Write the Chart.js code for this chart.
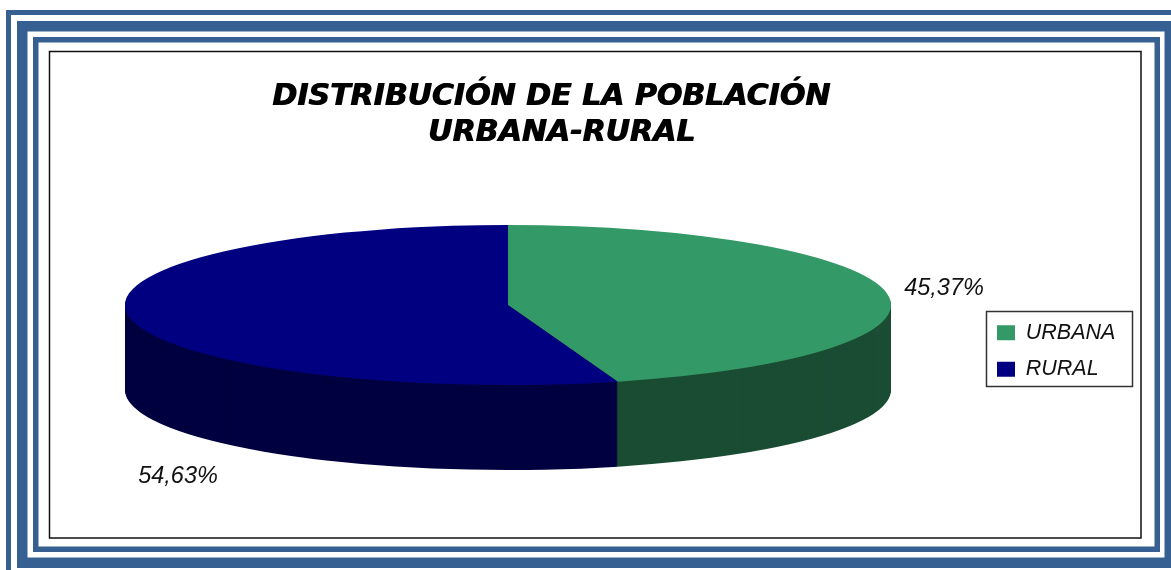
<!DOCTYPE html>
<html>
<head>
<meta charset="utf-8">
<script src="https://cdn.jsdelivr.net/npm/chart.js@4"></script>
<style>
  html, body { margin: 0; padding: 0; background: #fff; overflow: hidden; }
  canvas { display: block; }
</style>
</head>
<body>
<canvas id="pieChart" width="1171" height="570"></canvas>
<script>
const categories = ["URBANA", "RURAL"];
const values = [45.37, 54.63];
const topColors = ["#339966", "#000080"];
const sideColors = ["#1a4d33", "#000040"];
const titleLines = ["DISTRIBUCIÓN DE LA POBLACIÓN", "  URBANA-RURAL"];

const centerX = 508;
const centerY = 305;
const radiusX = 383;
const radiusY = 80;
const depth = 85;

// the frame around the chart, thick and thin bands
const frameColor = "#376092";
const frames = [
  [6, 10, 1300, 700, 5],
  [17, 21, 1158, 547, 10.5],
  [33, 37, 1127, 515, 5.5],
];

const framePlugin = {
  id: "framePlugin",
  beforeDraw(chart) {
    const c = chart.ctx;
    c.save();
    c.fillStyle = "#fff";
    c.fillRect(0, 0, chart.width, chart.height);
    c.strokeStyle = frameColor;
    frames.forEach(function (f) {
      c.lineWidth = f[4];
      c.strokeRect(f[0] + f[4] / 2, f[1] + f[4] / 2, f[2] - f[4], f[3] - f[4]);
    });
    c.lineWidth = 1.5;
    c.strokeStyle = "#111";
    c.strokeRect(49.5, 51.5, 1091.5, 486.5);
    c.strokeStyle = "#333";
    c.strokeRect(986.5, 311.5, 146, 75);
    c.restore();
  },
  afterDraw(chart) {
    // second pass of the title, 1px over, the reference is heavier than DejaVu bold
    const block = chart.titleBlock;
    block.left += 1;
    block.right += 1;
    block.draw(chart.ctx);
    block.left -= 1;
    block.right -= 1;
  },
};

// put the boxes where the reference has them
const placePlugin = {
  id: "placePlugin",
  afterLayout(chart) {
    Object.assign(chart.chartArea, {
      left: centerX - radiusX,
      right: centerX + radiusX,
      top: centerY - radiusY,
      bottom: centerY + radiusY,
    });
    chart.titleBlock.left = 0;
    chart.titleBlock.right = 1102;
    chart.titleBlock.top = 79;
    const legend = chart.legend;
    legend.left = 982;
    legend.right = 1132;
    legend.top = 307;
    legend.bottom = 500;
  },
};

// squash the pie to an ellipse and stack dark copies under it for the wall
const pie3dPlugin = {
  id: "pie3dPlugin",
  beforeDatasetsDraw(chart) {
    const c = chart.ctx;
    const arcs = chart.getDatasetMeta(0).data;
    const k = radiusY / radiusX;
    for (let d = depth; d > 0; d--) {
      arcs.forEach(function (arc, i) {
        const wall = Object.create(arc);
        wall.options = Object.assign({}, arc.options, { backgroundColor: sideColors[i] });
        c.save();
        c.translate(centerX, centerY + d);
        c.scale(1, k);
        c.translate(-centerX, -centerY);
        wall.draw(c);
        c.restore();
      });
    }
    c.save();
    c.translate(centerX, centerY);
    c.scale(1, k);
    c.translate(-centerX, -centerY);
  },
  afterDatasetsDraw(chart) {
    const c = chart.ctx;
    c.restore();
    const spots = [[944, 288], [178, 476]];
    c.save();
    c.font = "italic 23.5px 'Liberation Sans'";
    c.fillStyle = "#111";
    c.textAlign = "center";
    c.textBaseline = "middle";
    values.forEach(function (v, i) {
      c.fillText(v.toFixed(2).replace(".", ",") + "%", spots[i][0], spots[i][1]);
    });
    c.restore();
  },
};

const ctx = document.getElementById("pieChart").getContext("2d");
new Chart(ctx, {
  type: "pie",
  data: {
    labels: categories,
    datasets: [
      {
        data: values,
        backgroundColor: topColors,
        borderWidth: 0,
        radius: radiusX,
        clip: false,
      },
    ],
  },
  options: {
    responsive: false,
    animation: false,
    plugins: {
      title: {
        display: true,
        text: titleLines,
        color: "#000",
        font: { family: "'DejaVu Sans'", size: 30, weight: "bold", style: "italic", lineHeight: 1.2 },
        padding: 0,
      },
      legend: {
        position: "right",
        align: "start",
        labels: {
          color: "#111",
          boxWidth: 18,
          boxHeight: 15,
          padding: 15,
          font: { family: "'Liberation Sans'", size: 21.5, style: "italic" },
        },
      },
      tooltip: { enabled: false },
    },
  },
  plugins: [framePlugin, placePlugin, pie3dPlugin],
});
</script>
</body>
</html>
